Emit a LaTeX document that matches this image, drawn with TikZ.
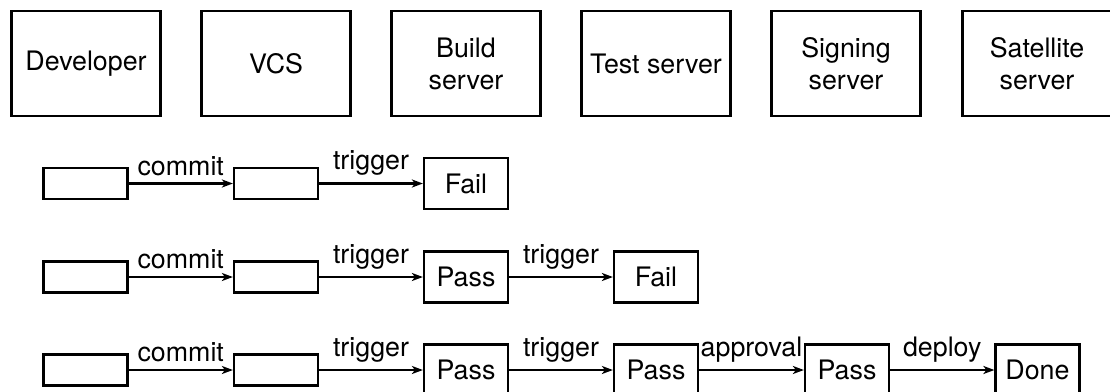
\documentclass[tikz,border=0pt]{standalone}
\usepackage{fontspec}
\setmainfont{TeX Gyre Heros}
\usetikzlibrary{arrows.meta}
\begin{document}
\begin{tikzpicture}[x=1pt,y=-1pt,
  every node/.style={font=\fontsize{26.8}{32}\selectfont},
  box/.style={draw, line width=2.2pt, inner sep=0pt, align=center},
  actor/.style={box, minimum width=149pt, minimum height=105pt},
  slot/.style={box, minimum width=84pt, minimum height=31pt},
  state/.style={box, minimum width=84pt, minimum height=51pt},
  flow/.style={line width=2.2pt, -{Stealth[length=11pt,width=8pt,inset=3pt]}},
  lbl/.style={above=7pt, inner sep=0pt}
]
\clip (0,0) rectangle (1110,391);

% participants
\node[actor] (dev)   at (86,63.5)   {Developer};
\node[actor] (vcs)   at (276,63.5)  {VCS};
\node[actor] (build) at (466,63.5)  {Build\\server};
\node[actor] (test)  at (656,63.5)  {Test server};
\node[actor] (sign)  at (846,63.5)  {Signing\\server};
\node[actor] (sat)   at (1037,63.5) {Satellite\\server};

% run 1: build fails
\node[slot]  (a1) at (85.5,183.5) {};
\node[slot]  (b1) at (276,183.5)  {};
\node[state] (c1) at (466,183.5)  {Fail};
\draw[flow] (a1) -- node[lbl] {commit} (b1);
\draw[flow] (b1) -- node[lbl] {trigger} (c1);

% run 2: tests fail
\node[slot]  (a2) at (85.5,277) {};
\node[slot]  (b2) at (276,277)  {};
\node[state] (c2) at (466,277)  {Pass};
\node[state] (d2) at (656,277)  {Fail};
\draw[flow] (a2) -- node[lbl] {commit} (b2);
\draw[flow] (b2) -- node[lbl] {trigger} (c2);
\draw[flow] (c2) -- node[lbl] {trigger} (d2);

% run 3: full pipeline
\node[slot]  (a3) at (85.5,370) {};
\node[slot]  (b3) at (276,370)  {};
\node[state] (c3) at (466,370)  {Pass};
\node[state] (d3) at (656,370)  {Pass};
\node[state] (e3) at (847,370)  {Pass};
\node[state] (f3) at (1037.5,370) {Done};
\draw[flow] (a3) -- node[lbl] {commit} (b3);
\draw[flow] (b3) -- node[lbl] {trigger} (c3);
\draw[flow] (c3) -- node[lbl] {trigger} (d3);
\draw[flow] (d3) -- node[lbl] {approval} (e3);
\draw[flow] (e3) -- node[lbl] {deploy} (f3);
\end{tikzpicture}
\end{document}
